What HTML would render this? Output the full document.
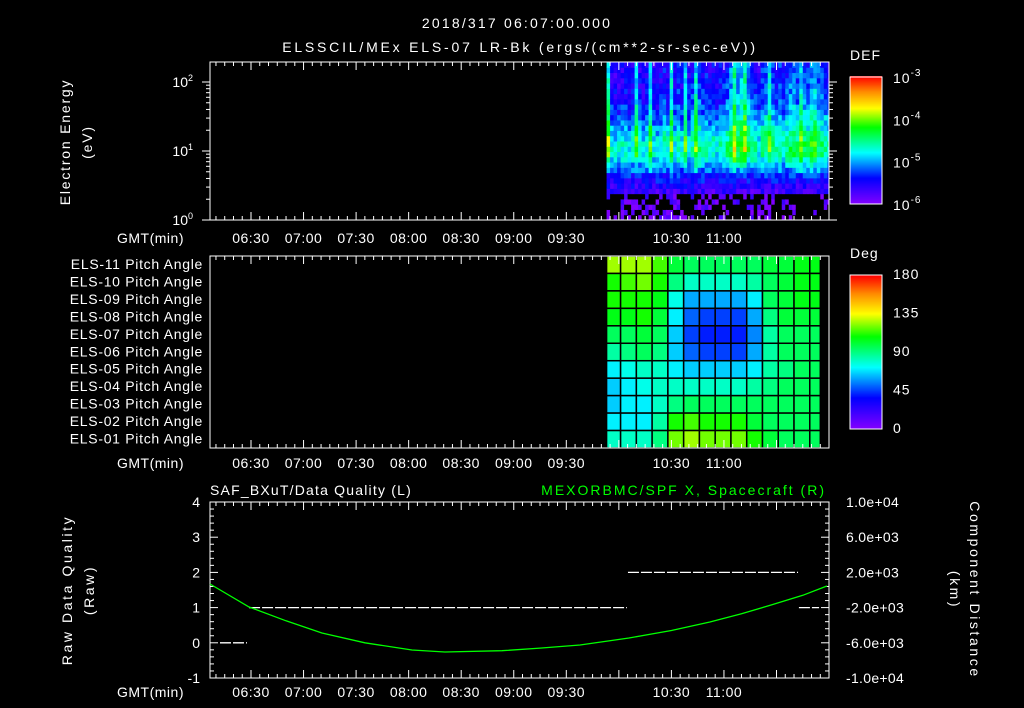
<!DOCTYPE html>
<html><head><meta charset="utf-8"><style>
html,body{margin:0;padding:0;background:#000;width:1024px;height:708px;overflow:hidden}
svg{display:block}
text{font-family:"Liberation Sans",sans-serif;fill:#fff;font-size:14px}
</style></head><body>
<svg id="c" width="1024" height="708" xmlns="http://www.w3.org/2000/svg">
<g id="g"></g>
</svg>
<script>
// ---- data ----
const timeTicks=[390,420,450,480,510,540,570,600,630,660,690,720];
const topTimeLabels=["06:30","07:00","07:30","08:00","08:30","09:00","09:30","","10:30","11:00","",""];
const energyProfile=[0.05,0.06,0.07,0.08,0.1,0.14,0.18,0.22,0.26,0.3,0.34,0.38,0.41,0.42,0.42,0.4,0.37,0.33,0.3,0.27,0.24,0.22,0.2,0.19,0.18,0.17,0.16,0.15,0.14,0.14];
const colBoost=[0.4,0.05,0.02,0.02,0.05,0.05,0.02,0.05,0.3,0.05,0.02,0.05,0.3,0.05,0.02,0.05,0.1,0.05,0.35,0.05,0.1,0.05,0.3,0.05,0.1,0.35,0.15,0.1,0.1,0.05,0.1,0.05,0.1,0.1,0.15,0.25,0.45,0.25,0.3,0.45,0.2,0.15,0.1,0.05,0.15,0.2,0.35,0.15,0.1,0.15,0.1,0.15,0.2,0.25,0.15,0.35,0.2,0.15,0.25,0.3,0.2,0.15,0.15,0.1];
const specStart=593, specStep=2;
const pitchRowsLabels=["ELS-11","ELS-10","ELS-09","ELS-08","ELS-07","ELS-06","ELS-05","ELS-04","ELS-03","ELS-02","ELS-01"];
const pitchTimes=[593,601,610,619,628,637,646,655,664,673,682,691,700,709,715];
const pitchVals=[
[125,125,125,115,100,95,95,95,95,95,100,100,105,105],
[110,115,120,110,90,80,80,80,80,85,95,100,105,105],
[110,110,110,105,75,60,60,60,60,70,95,100,105,105],
[105,105,110,100,70,50,45,45,45,60,90,100,100,100],
[95,95,100,95,65,45,40,40,40,55,85,95,95,95],
[85,90,95,90,65,50,45,45,45,60,85,95,95,95],
[70,75,80,80,70,65,65,65,65,70,85,90,95,95],
[65,70,75,80,80,80,80,80,80,85,90,95,95,95],
[65,70,70,80,90,95,95,95,95,95,95,95,95,95],
[70,70,70,85,110,115,110,110,110,100,95,95,95,95],
[80,80,80,90,120,125,120,120,120,110,100,95,95,95]];
const orbitTimes=[366.6,388.9,410,430.5,455,481.9,500.7,533.3,555,577.8,605.8,630,652,670,686.9,705,718.8];
const orbitKm=[682,-1932,-3500,-4886,-6000,-6818,-7045,-6900,-6600,-6250,-5455,-4600,-3636,-2700,-1705,-600,455];
const qualStart=[372.3,388.9,605.2,702.8];
const qualEnd=[387.7,604.6,702.3,714.3];
const qualVal=[0,1,2,1];
const qualTicksL=[4,3,2,1,0,-1];
const distTicks=["1.0e+04","6.0e+03","2.0e+03","-2.0e+03","-6.0e+03","-1.0e+04"];

// ---- helpers ----
const NS="http://www.w3.org/2000/svg";const G=document.getElementById('g');
function el(t,a,p){const e=document.createElementNS(NS,t);for(const k in a)e.setAttribute(k,a[k]);(p||G).appendChild(e);return e;}
function txt(x,y,s,a){const e=el('text',Object.assign({x:x,y:y},a||{}));e.textContent=s;return e;}
const X0=210,X1=829;
const xT=t=>251+(t-390)/30*52.55;
const stops=[[0,130,0,255],[0.2,0,0,255],[0.4,0,255,255],[0.6,0,255,0],[0.75,255,255,0],[0.88,255,140,0],[1,255,0,0]];
function cmap(v){v=Math.max(0,Math.min(1,v));for(let i=1;i<stops.length;i++){if(v<=stops[i][0]){const a=stops[i-1],b=stops[i],f=(v-a[0])/(b[0]-a[0]);return `rgb(${Math.round(a[1]+f*(b[1]-a[1]))},${Math.round(a[2]+f*(b[2]-a[2]))},${Math.round(a[3]+f*(b[3]-a[3]))})`;}}return 'rgb(255,0,0)';}
function hash(i,j){let h=(i*374761393+j*668265263)>>>0;h=(h^(h>>>13))*1274126177>>>0;return (h^(h>>>16))%1000/1000;}
function timeAxis(yTop,yBot,labY,name){
  const a=el('g',{});
  
  
  for(let t=370;t<=720;t+=5){const x=xT(t);if(x<X0||x>X1)continue;const maj=(t%30===0);const L=maj?8:4;
    el('line',{x1:x,y1:yTop,x2:x,y2:yTop+L,stroke:'#fff'},a);el('line',{x1:x,y1:yBot,x2:x,y2:yBot-L,stroke:'#fff'},a);}
  txt(117,labY,'GMT(min)',{'letter-spacing':'0.5'});
  timeTicks.forEach((t,i)=>{if(topTimeLabels[i])txt(xT(t),labY,topTimeLabels[i],{'text-anchor':'middle','letter-spacing':'0.5'});});
}

// titles
txt(517,28,'2018/317 06:07:00.000',{'text-anchor':'middle','font-size':'16','letter-spacing':'2.2',});
txt(520,52,'ELSSCIL/MEx ELS-07 LR-Bk  (ergs/(cm**2-sr-sec-eV))',{'text-anchor':'middle','font-size':'16','letter-spacing':'2.8',});

// ---- panel 1: spectrogram ----
const P1T=62,P1B=220;const yE=l=>220-l*69;
const nR=energyProfile.length, lTop=(220-62)/69;
const sp=el('g',{});


for(let c=0;c<colBoost.length;c++){
  const t0=specStart+c*specStep,x0=xT(t0),x1=Math.min(xT(t0+specStep),X1);
  for(let r=0;r<nR;r++){
    const l0=r/nR*lTop,l1=(r+1)/nR*lTop;
    let w=r>=9?Math.min(1,(r-7)/6):0;
    let v=energyProfile[r]+colBoost[c]*w*0.8+(hash(c,r)-0.5)*0.08;
    let col=cmap(v);
    if(r<5&&hash(c+7,r*3+1)<0.4)col='#000';
    const rc=el('rect',{x:x0,y:yE(l1),width:x1-x0+0.5,height:yE(l0)-yE(l1)+0.5,fill:col},sp);
    
    
  }
}
el('rect',{x:X0,y:P1T,width:X1-X0,height:P1B-P1T,fill:'none',stroke:'#fff',});
timeAxis(P1T,P1B,243,'energy-time-axis');
[[0,'0'],[1,'1'],[2,'2']].forEach(([l,s])=>{const y=yE(l);const t=txt(193,y+5,'10',{'text-anchor':'end',});
  const sup=el('tspan',{dy:-6,'font-size':'9'},t);sup.textContent=s;});
for(let d=0;d<3;d++)for(let m=1;m<=9;m++){const l=d+Math.log10(m);if(l>lTop)continue;const y=yE(l);const L=m===1?8:4;
  el('line',{x1:X0-L,y1:y,x2:X0,y2:y,stroke:'#fff'});el('line',{x1:X1+L,y1:y,x2:X1,y2:y,stroke:'#fff'});}
txt(0,0,'Electron Energy',{transform:'translate(70,142) rotate(-90)','text-anchor':'middle','font-size':'15','letter-spacing':'1.8',});
txt(0,0,'(eV)',{transform:'translate(92,142) rotate(-90)','text-anchor':'middle','font-size':'15','letter-spacing':'1.8',});
// colorbar DEF
const cb1=el('g',{});


for(let i=0;i<128;i++){el('rect',{x:850,y:204-(i+1),width:32,height:1.2,fill:cmap(i/127)},cb1);}
el('rect',{x:850,y:77,width:32,height:127,fill:'none',stroke:'#fff'},cb1);
txt(850,60,'DEF',{'font-size':'16','letter-spacing':'1',});
['-3','-4','-5','-6'].forEach((s,i)=>{const y=77+i*42.3;const t=txt(893,y+6,'10',{'font-size':'16','letter-spacing':'1',});const sp2=el('tspan',{dy:-7,'font-size':'10'},t);sp2.textContent=s;});

// ---- panel 2: pitch angles ----
const P2T=256,P2B=448;const rowH=(P2B-P2T)/11;
const pg=el('g',{});


pitchVals.forEach((row,r)=>row.forEach((v,c)=>{const x0=xT(pitchTimes[c]),x1=xT(pitchTimes[c+1]);
  const rc=el('rect',{x:x0,y:P2T+r*rowH,width:x1-x0,height:rowH,fill:cmap(v/180),stroke:'#000','stroke-width':1.5},pg);
  
  }));
el('rect',{x:X0,y:P2T,width:X1-X0,height:P2B-P2T,fill:'none',stroke:'#fff',});
timeAxis(P2T,P2B,468,'pitch-time-axis');
pitchRowsLabels.forEach((s,i)=>txt(203,P2T+rowH*i+13,s+' Pitch Angle',{'text-anchor':'end','letter-spacing':'0.7',}));
const cb2=el('g',{});


for(let i=0;i<154;i++){el('rect',{x:850,y:429-(i+1),width:32,height:1.2,fill:cmap(i/153)},cb2);}
el('rect',{x:850,y:275,width:32,height:154,fill:'none',stroke:'#fff'},cb2);
txt(850,258,'Deg',{'font-size':'16','letter-spacing':'1',});
['180','135','90','45','0'].forEach((s,i)=>txt(893,279+i*38.5,s,{'font-size':'16','letter-spacing':'1',}));

// ---- panel 3 ----
const P3T=502,P3B=678;const yQ=v=>502+(4-v)*35.2;const yK=k=>502+(10000-k)/20000*176;
txt(210,495,'SAF_BXuT/Data Quality (L)',{'font-size':'16','letter-spacing':'1.2',});
txt(826,495,'MEXORBMC/SPF X, Spacecraft (R)',{'font-size':'16','letter-spacing':'2','text-anchor':'end',fill:'#00ff00',style:'fill:#00ff00',});
el('rect',{x:X0,y:P3T,width:X1-X0,height:P3B-P3T,fill:'none',stroke:'#fff',});
timeAxis(P3T,P3B,697,'quality-time-axis');
for(let v=-1;v<=4;v+=0.2){const y=yQ(v);const maj=Math.abs(v-Math.round(v))<0.01;const L=maj?8:4;
  el('line',{x1:X0,y1:y,x2:X0+L,y2:y,stroke:'#fff'});el('line',{x1:X1,y1:y,x2:X1-L,y2:y,stroke:'#fff'});}
qualTicksL.forEach(v=>txt(200,yQ(v)+5,String(v),{'text-anchor':'end','font-size':'15',}));
distTicks.forEach((s,i)=>txt(846,yQ(4-i)+5,s,{'font-size':'12','letter-spacing':'0.3',}));
txt(0,0,'Raw Data Quality',{transform:'translate(72,590) rotate(-90)','text-anchor':'middle','font-size':'15','letter-spacing':'2.6',});
txt(0,0,'(Raw)',{transform:'translate(94,590) rotate(-90)','text-anchor':'middle','font-size':'15','letter-spacing':'2.6',});
txt(0,0,'Component Distance',{transform:'translate(970,590) rotate(90)','text-anchor':'middle','font-size':'15','letter-spacing':'2.6',});
txt(0,0,'(km)',{transform:'translate(950,590) rotate(90)','text-anchor':'middle','font-size':'15','letter-spacing':'2.6',});
qualVal.forEach((v,i)=>{const ln=el('line',{x1:xT(qualStart[i]),x2:xT(qualEnd[i]),y1:yQ(v),y2:yQ(v),stroke:'#fff','stroke-width':1.3,'stroke-dasharray':'11 2'});
  
  });
const pts=orbitTimes.map((t,i)=>xT(t).toFixed(1)+','+yK(orbitKm[i]).toFixed(1)).join(' ');
const pl=el('polyline',{points:pts,fill:'none',stroke:'#00ff00','stroke-width':1.3});


</script>
</body></html>
